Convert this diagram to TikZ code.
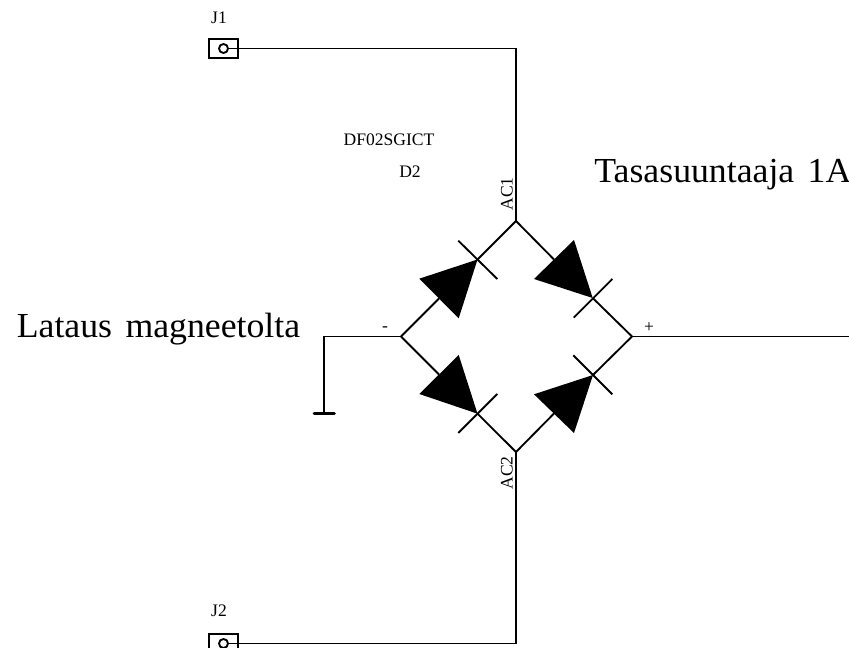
\documentclass[tikz,border=0pt]{standalone}
\usepackage{fontspec}
\setmainfont{Liberation Serif}
\newfontfamily\widefont[FakeStretch=1.017,WordSpace=1.5]{Liberation Serif}
\usetikzlibrary{positioning}

\tikzset{
	wire/.style={line width=1.05pt},
	pinbox/.style={draw, line width=1.05pt, minimum width=29*0.02cm, minimum height=19*0.02cm, inner sep=0pt},
	pinhole/.style={circle, draw, line width=1.05pt, minimum size=9*0.02cm, inner sep=0pt},
	smalltext/.style={font=\fontsize{10}{12}\selectfont, inner sep=0pt},
	bigtext/.style={font=\widefont\fontsize{20}{24}\selectfont, inner sep=0pt, anchor=base west},
	diodehead/.style={fill=black}
}

\begin{document}
\begin{tikzpicture}[x=0.02cm,y=-0.02cm]
		\useasboundingbox (0,0) rectangle (849,648);

		% connectors J1 and J2
		\draw (223.5,48.5) node [pinbox] (j1box) {};
		\draw (223.5,48.5) node [pinhole] (j1) {};
		\draw (223.5,643.5) node [pinbox] (j2box) {};
		\draw (223.5,643.5) node [pinhole] (j2) {};

		% bridge corners
		\coordinate (top) at (516,221);
		\coordinate (left) at (401,336.5);
		\coordinate (right) at (632,336.5);
		\coordinate (bottom) at (516,452);
		\coordinate (topbend) at (516,48.5);
		\coordinate (botbend) at (516,643.5);
		\coordinate (gndbend) at (324,336.5);
		\coordinate (gnd) at (324,413.5);
		\coordinate (gndl) at (314,413.5);
		\coordinate (gndr) at (334.5,413.5);
		\coordinate (out) at (849,336.5);

		% diode tips and base middles
		\coordinate (tipa) at (477.5,259.5);
		\coordinate (basea) at (439,298.5);
		\coordinate (tipb) at (592.7,298);
		\coordinate (baseb) at (554,259.5);
		\coordinate (tipc) at (593,375);
		\coordinate (basec) at (554,413.5);
		\coordinate (tipd) at (477.5,413.7);
		\coordinate (based) at (439,374.5);

		\draw [wire] (j1) -- (topbend) -- (top);
		\draw [wire] (j2) -- (botbend) -- (bottom);
		\draw [wire] (left) -- (gndbend) -- (gnd);
		\draw [wire] (right) -- (out);
		\draw [line width=1.5pt, line cap=round] (gndl) -- (gndr);

		\draw [wire] (top) -- (tipa);
		\draw [wire] (left) -- (basea);
		\draw [wire] (top) -- (baseb);
		\draw [wire] (right) -- (tipb);
		\draw [wire] (right) -- (tipc);
		\draw [wire] (bottom) -- (basec);
		\draw [wire] (left) -- (based);
		\draw [wire] (bottom) -- (tipd);

		\fill [diodehead] (tipa) -- (419.3,278.7) -- (458.7,318.3) -- cycle;
		\fill [diodehead] (tipb) -- (534,279) -- (574,240) -- cycle;
		\fill [diodehead] (tipc) -- (534,394.3) -- (574,433) -- cycle;
		\fill [diodehead] (tipd) -- (419.3,394) -- (458.7,355) -- cycle;

		\draw [wire] (458.3,240.7) -- (497.3,279);
		\draw [wire] (573.7,317.7) -- (612.3,279);
		\draw [wire] (573.3,355.3) -- (612.3,394.3);
		\draw [wire] (458.3,433) -- (497.3,394);

		% labels
		\draw (219,18) node [smalltext] (j1label) {J1};
		\draw (219,611) node [smalltext] (j2label) {J2};
		\draw (389,140) node [smalltext] (partlabel) {DF02SGICT};
		\draw (410,172) node [smalltext] (dlabel) {D2};
		\draw (507,194) node [smalltext, rotate=90] (ac1) {AC1};
		\draw (507,473) node [smalltext, rotate=90] (ac2) {AC2};
		\draw (385,329) node [smalltext] (minus) {-};
		\draw (649,328) node [smalltext] (plus) {+};
		\draw (16.5,337.5) node [bigtext] (lataus) {Lataus magneetolta};
		\draw (594,183) node [bigtext] (tasa) {Tasasuuntaaja 1A};
	\end{tikzpicture}
\end{document}
